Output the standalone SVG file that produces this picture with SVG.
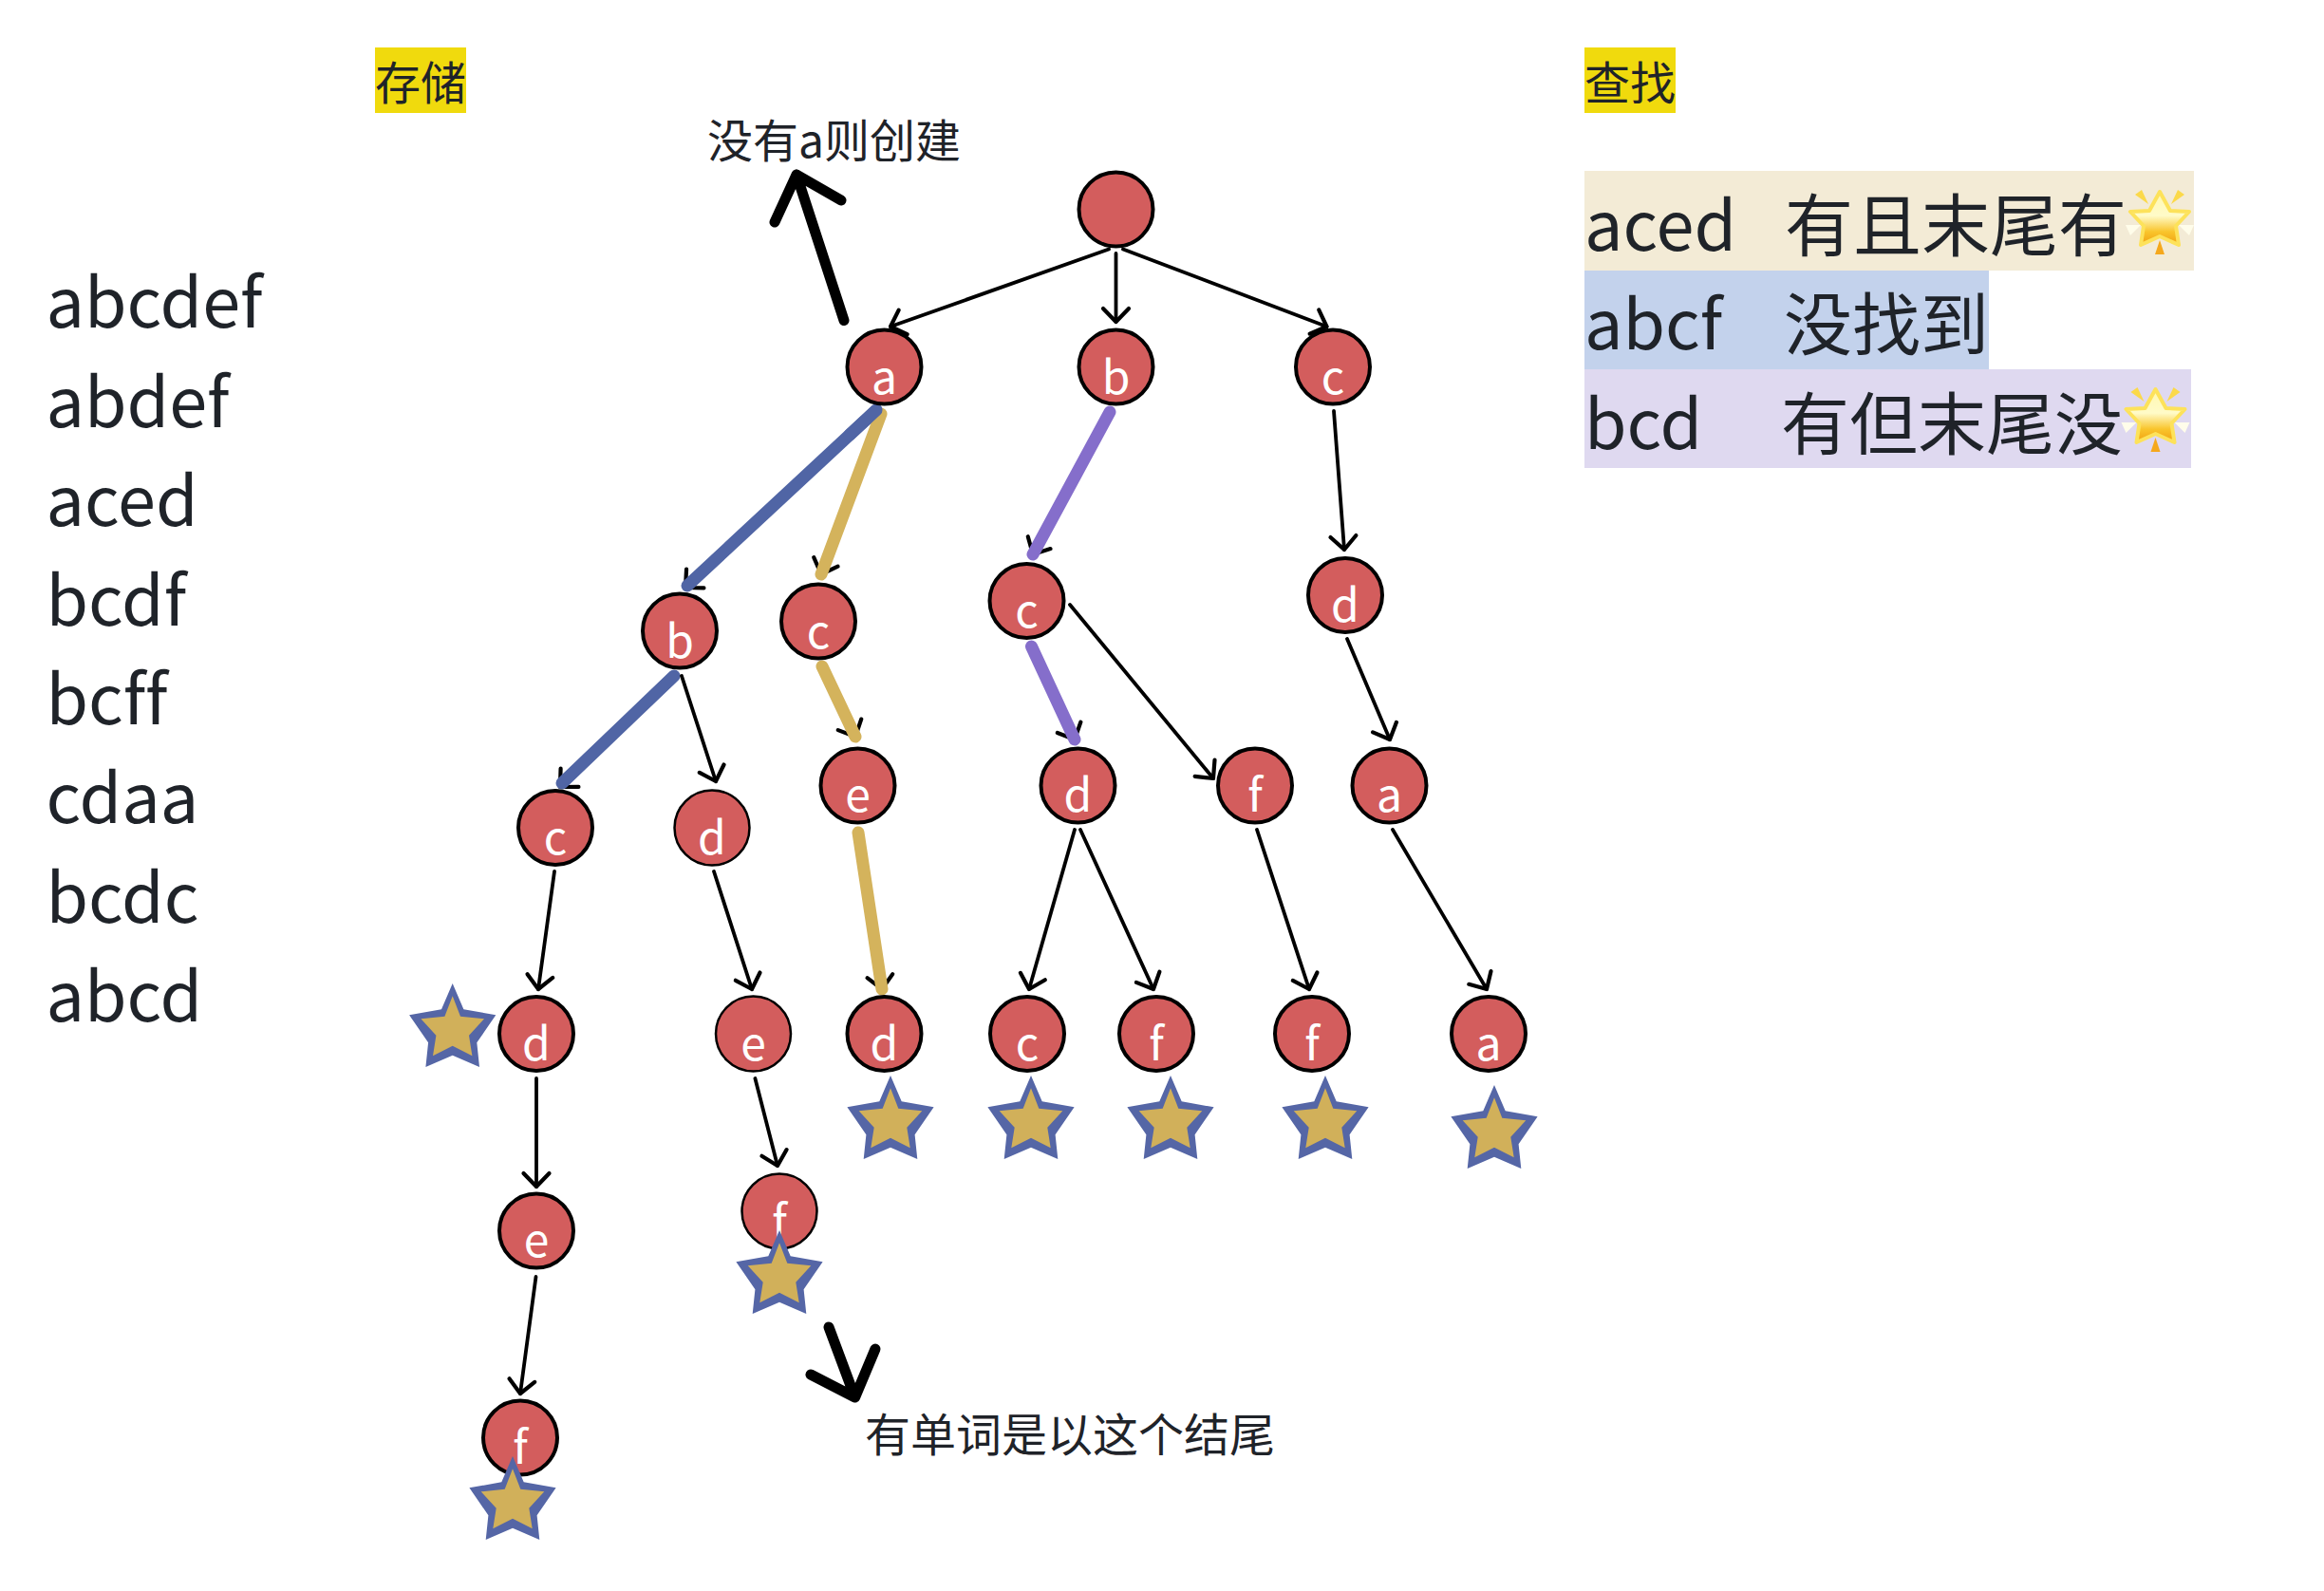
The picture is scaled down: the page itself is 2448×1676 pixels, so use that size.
<svg xmlns="http://www.w3.org/2000/svg" width="2448" height="1676" viewBox="0 0 2448 1676">
<style>
text{font-family:"Noto Sans CJK SC","Noto Sans",sans-serif;fill:#1f2329;font-variant-ligatures:none}
.w{font-size:72px}
.s{font-size:48px}
.n circle{fill:#d35d5d;stroke:#000;stroke-width:4}
.n.t circle{stroke-width:2.5}
.n text{font-size:48px;fill:#fff;text-anchor:middle}
.a{fill:none;stroke:#000;stroke-width:3.8;stroke-linecap:round}
.b{fill:none;stroke-width:13;stroke-linecap:round}
.k{fill:none;stroke:#000;stroke-width:11;stroke-linecap:round;stroke-linejoin:round}
</style>
<defs>
<marker id="h" markerUnits="userSpaceOnUse" markerWidth="34" markerHeight="34" refX="17" refY="17" orient="auto" viewBox="0 0 34 34" overflow="visible">
<path d="M3 3.5L17 17L3 30.5" fill="none" stroke="#000" stroke-width="4.2" stroke-linecap="round" stroke-linejoin="round"/>
</marker>
<linearGradient id="eg" x1="0" y1="0" x2="0" y2="1">
<stop offset="0" stop-color="#fff8b0"/><stop offset=".45" stop-color="#fffbc8"/><stop offset=".75" stop-color="#f9c52c"/><stop offset="1" stop-color="#f0a010"/>
</linearGradient>
<g id="star">
<polygon fill="#5566a6" points="0,0 11.7,27.3 45.6,33.3 25.6,62.3 28.3,88 0,75.7 -28.3,88 -25.6,62.3 -45.6,33.3 -11.7,27.3"/>
<polygon fill="#d1b05a" points="0,13.3 8.3,34.7 33.3,37.3 17.3,54.7 20.7,76.3 0,65.7 -20.7,76.3 -17.3,54.7 -33.3,37.3 -8.3,34.7"/>
</g>
<g id="spark">
<path d="M0,-28L11,-8L31,-7L17,8L20,28L0,19L-20,28L-17,8L-31,-7L-11,-8Z" fill="url(#eg)" stroke="#fde25a" stroke-width="4" stroke-linejoin="round"/>
<polygon points="-26,-25 -19,-30 -12,-15" fill="#fbd94a"/>
<polygon points="26,-25 19,-30 12,-15" fill="#fbd94a"/>
<polygon points="0,23 5,38 -5,38" fill="#f5a81c"/>
<polygon points="-36,7 -20,7 -31,18" fill="#fffdea"/>
<polygon points="36,7 20,7 31,18" fill="#fffdea"/>
</g>
</defs>
<rect width="2448" height="1676" fill="#fff"/>

<g id="words">
<text class="w" x="48.5" y="345">abcdef</text>
<text class="w" x="48.5" y="450">abdef</text>
<text class="w" x="48.5" y="554">aced</text>
<text class="w" x="48.5" y="658.5">bcdf</text>
<text class="w" x="48.5" y="763">bcff</text>
<text class="w" x="48.5" y="867">cdaa</text>
<text class="w" x="48.5" y="971.5">bcdc</text>
<text class="w" x="48.5" y="1076">abcd</text>
</g>

<g id="title-store"><rect x="395" y="50" width="96" height="69" fill="#f0da0d"/><text class="s" x="395" y="105">存储</text></g>
<g id="title-find"><rect x="1669" y="50" width="96" height="69" fill="#f0da0d"/><text class="s" x="1669" y="105">查找</text></g>

<g id="row-aced">
<rect x="1669" y="180" width="642" height="105" fill="#f3ebd6"/>
<text class="w" x="1669" y="264">aced</text><text class="w" x="1880" y="264">有且末尾有</text>
<use href="#spark" x="2275" y="230"/>
</g>
<g id="row-abcf">
<rect x="1669" y="285" width="426" height="104" fill="#c3d2ec"/>
<text class="w" x="1669" y="368">abcf</text><text class="w" x="1879" y="368">没找到</text>
</g>
<g id="row-bcd">
<rect x="1669" y="389" width="639" height="104" fill="#dfd9f0"/>
<text class="w" x="1669" y="472.5">bcd</text><text class="w" x="1876" y="472.5">有但末尾没</text>
<use href="#spark" x="2270.5" y="438"/>
</g>

<g id="connectors">
<line class="a" x1="1168" y1="262.5" x2="938" y2="344" marker-end="url(#h)"/>
<line class="a" x1="1175.5" y1="267" x2="1175.5" y2="339" marker-end="url(#h)"/>
<line class="a" x1="1183" y1="262.5" x2="1397.5" y2="344" marker-end="url(#h)"/>
<line class="a" x1="1405" y1="433" x2="1416" y2="579" marker-end="url(#h)"/>
<line class="a" x1="923" y1="432" x2="722" y2="619" marker-end="url(#h)"/>
<line class="b" stroke="#5065a5" x1="923" y1="432" x2="724" y2="617"/>
<line class="a" x1="928" y1="436" x2="865" y2="605" marker-end="url(#h)"/>
<line class="b" stroke="#d4b35c" x1="928" y1="436" x2="865" y2="605"/>
<line class="b" stroke="#5065a5" x1="923" y1="432" x2="895" y2="458"/>
<line class="a" x1="1169" y1="434" x2="1088" y2="584" marker-end="url(#h)"/>
<line class="b" stroke="#856ecb" x1="1169" y1="434" x2="1088" y2="584"/>
<line class="a" x1="710" y1="712" x2="590" y2="829" marker-end="url(#h)"/>
<line class="b" stroke="#5065a5" x1="710" y1="712" x2="592" y2="825"/>
<line class="a" x1="718" y1="712" x2="754" y2="823" marker-end="url(#h)"/>
<line class="a" x1="866" y1="702" x2="901" y2="776" marker-end="url(#h)"/>
<line class="b" stroke="#d4b35c" x1="866" y1="702" x2="901" y2="776"/>
<line class="a" x1="1086.5" y1="681" x2="1132" y2="779" marker-end="url(#h)"/>
<line class="b" stroke="#856ecb" x1="1086.5" y1="681" x2="1132" y2="779"/>
<line class="a" x1="1127" y1="637" x2="1278" y2="820" marker-end="url(#h)"/>
<line class="a" x1="1419" y1="673" x2="1464" y2="779" marker-end="url(#h)"/>
<line class="a" x1="584" y1="918" x2="567" y2="1042" marker-end="url(#h)"/>
<line class="a" x1="904" y1="877" x2="929" y2="1042" marker-end="url(#h)"/>
<line class="b" stroke="#d4b35c" x1="904" y1="877" x2="929" y2="1042"/>
<line class="a" x1="752" y1="918" x2="792" y2="1042" marker-end="url(#h)"/>
<line class="a" x1="1132" y1="874" x2="1084" y2="1042" marker-end="url(#h)"/>
<line class="a" x1="1138" y1="874" x2="1215" y2="1042" marker-end="url(#h)"/>
<line class="a" x1="1324" y1="874" x2="1379" y2="1042" marker-end="url(#h)"/>
<line class="a" x1="1467" y1="874" x2="1566" y2="1042" marker-end="url(#h)"/>
<line class="a" x1="565" y1="1136" x2="565" y2="1250" marker-end="url(#h)"/>
<line class="a" x1="795.4" y1="1136" x2="819" y2="1228" marker-end="url(#h)"/>
<line class="a" x1="564.5" y1="1345" x2="548" y2="1468" marker-end="url(#h)"/>
<path class="k" d="M889,337.5L839,184M886,211L839,184L816,234"/>
<path class="k" d="M873,1398L900.6,1472M922,1421L900.6,1472L854,1448"/>
</g>

<g id="n-root" class="n"><circle cx="1175.5" cy="220.5" r="39"/></g>
<g id="n-a" class="n"><circle cx="931.5" cy="386.5" r="39"/><text x="931.5" y="415">a</text></g>
<g id="n-b" class="n"><circle cx="1175.5" cy="386.5" r="39"/><text x="1175.5" y="415">b</text></g>
<g id="n-c" class="n"><circle cx="1404" cy="386.5" r="39"/><text x="1404" y="415">c</text></g>
<g id="n-ab" class="n"><circle cx="716" cy="664.5" r="39"/><text x="716" y="693">b</text></g>
<g id="n-ac" class="n"><circle cx="862" cy="654.5" r="39"/><text x="862" y="683">c</text></g>
<g id="n-bc" class="n"><circle cx="1081.5" cy="633" r="39"/><text x="1081.5" y="661">c</text></g>
<g id="n-cd" class="n"><circle cx="1417" cy="627" r="39"/><text x="1417" y="655">d</text></g>
<g id="n-abc" class="n"><circle cx="585" cy="872" r="39"/><text x="585" y="900">c</text></g>
<g id="n-abd" class="n t"><circle cx="750" cy="872" r="39.5"/><text x="750" y="900">d</text></g>
<g id="n-ace" class="n"><circle cx="903.5" cy="827.5" r="39"/><text x="903.5" y="855">e</text></g>
<g id="n-bcd" class="n"><circle cx="1135.5" cy="827.5" r="39"/><text x="1135.5" y="855">d</text></g>
<g id="n-bcf" class="n"><circle cx="1322" cy="827.5" r="39"/><text x="1322" y="855">f</text></g>
<g id="n-cda" class="n"><circle cx="1463.5" cy="827.5" r="39"/><text x="1463.5" y="855">a</text></g>
<g id="n-abcd" class="n"><circle cx="565" cy="1089" r="39"/><text x="565" y="1117">d</text></g>
<g id="n-abde" class="n t"><circle cx="793.5" cy="1089" r="39.5"/><text x="793.5" y="1117">e</text></g>
<g id="n-aced" class="n"><circle cx="931.5" cy="1089" r="39"/><text x="931.5" y="1117">d</text></g>
<g id="n-bcdc" class="n"><circle cx="1082" cy="1089" r="39"/><text x="1082" y="1117">c</text></g>
<g id="n-bcdf" class="n"><circle cx="1218" cy="1089" r="39"/><text x="1218" y="1117">f</text></g>
<g id="n-bcff" class="n"><circle cx="1382" cy="1089" r="39"/><text x="1382" y="1117">f</text></g>
<g id="n-cdaa" class="n"><circle cx="1568" cy="1089" r="39"/><text x="1568" y="1117">a</text></g>
<g id="n-abcde" class="n"><circle cx="565" cy="1296.5" r="39"/><text x="565" y="1324">e</text></g>
<g id="n-abdef" class="n t"><circle cx="821" cy="1276" r="39.5"/><text x="821" y="1304">f</text></g>
<g id="n-abcdef" class="n"><circle cx="548" cy="1514.5" r="39"/><text x="548" y="1542">f</text></g>

<g id="stars">
<use href="#star" x="476.7" y="1036"/>
<use href="#star" x="938" y="1133"/>
<use href="#star" x="1086" y="1133"/>
<use href="#star" x="1233" y="1133"/>
<use href="#star" x="1396" y="1133"/>
<use href="#star" x="1574" y="1143"/>
<use href="#star" x="821" y="1296"/>
<use href="#star" x="540" y="1534"/>
</g>

<g id="note-create"><text class="s" x="745" y="166">没有a则创建</text></g>
<g id="note-end"><text class="s" x="911" y="1529">有单词是以这个结尾</text></g>
</svg>
